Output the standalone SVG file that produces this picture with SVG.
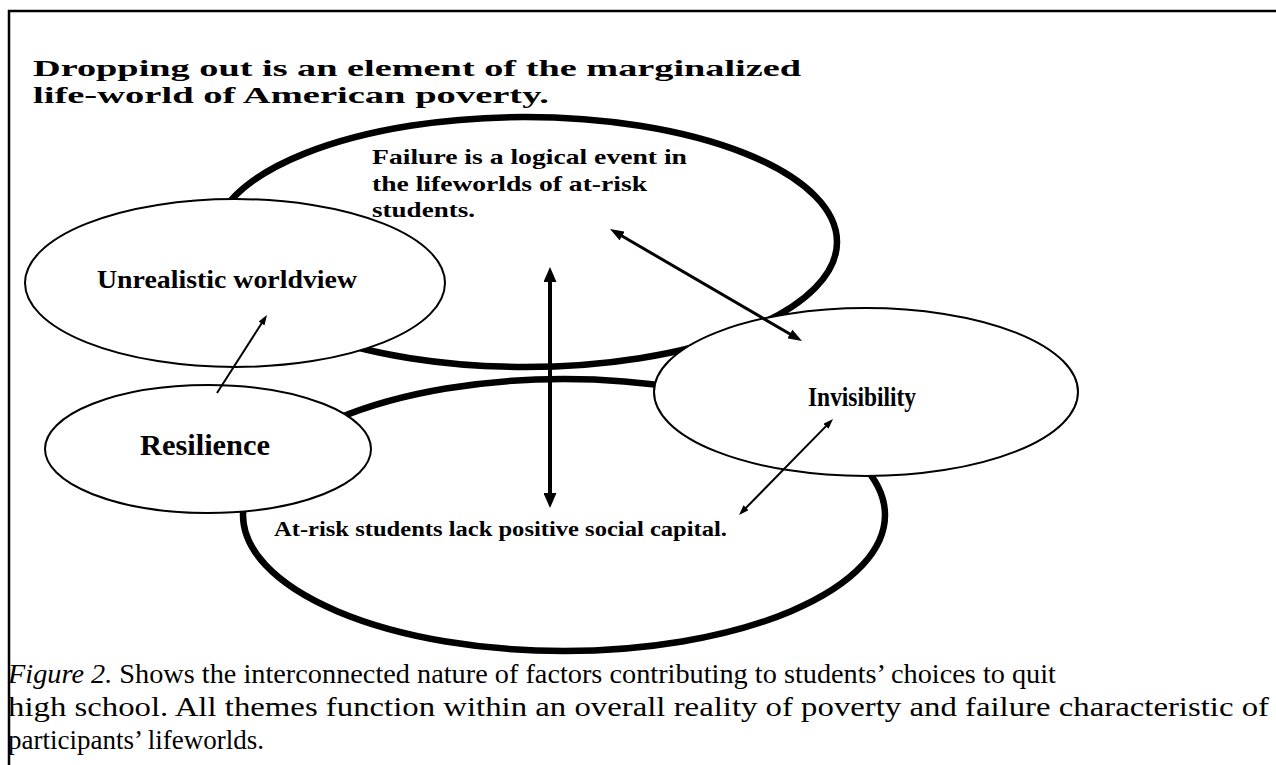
<svg xmlns="http://www.w3.org/2000/svg" width="1276" height="765" viewBox="0 0 1276 765">
<style>
.thick{fill:none;stroke:#000;stroke-width:6.5}
.thin{fill:#fff;stroke:#000;stroke-width:2}
.b{font-family:"Liberation Serif","Times New Roman",serif;font-weight:bold;fill:#000}
.cap{font-family:"Liberation Serif","Times New Roman",serif;font-size:27px;fill:#000}
.conn line{stroke:#000;fill:none}
</style>
<defs>
<marker id="hBig" markerUnits="userSpaceOnUse" markerWidth="15" markerHeight="13" refX="8" refY="6.5" orient="auto-start-reverse"><path d="M0,0 L15,6.5 L0,13 z" fill="#000"/></marker>
<marker id="hMed" markerUnits="userSpaceOnUse" markerWidth="14" markerHeight="10" refX="8" refY="5" orient="auto-start-reverse"><path d="M0,0 L14,5 L0,10 z" fill="#000"/></marker>
<marker id="hSm" markerUnits="userSpaceOnUse" markerWidth="10" markerHeight="7" refX="6" refY="3.5" orient="auto-start-reverse"><path d="M0,0 L10,3.5 L0,7 z" fill="#000"/></marker>
</defs>
<rect width="1276" height="765" fill="#fff"/>
<path d="M9,770 V11 H1280" fill="none" stroke="#000" stroke-width="2.5"/>
<g id="title">
<text class="b" x="33" y="76" font-size="23" textLength="768" lengthAdjust="spacingAndGlyphs">Dropping out is an element of the marginalized</text>
<text class="b" x="33" y="103" font-size="23" textLength="516" lengthAdjust="spacingAndGlyphs">life-world of American poverty.</text>
</g>
<g id="social-capital">
<ellipse class="thick" cx="564" cy="515" rx="321" ry="136"/>
<text class="b" x="274" y="536" font-size="20" textLength="453" lengthAdjust="spacingAndGlyphs">At-risk students lack positive social capital.</text>
</g>
<g id="failure">
<ellipse class="thick" cx="525" cy="242" rx="312" ry="125"/>
<text class="b" x="372" y="164" font-size="22" textLength="315" lengthAdjust="spacingAndGlyphs">Failure is a logical event in</text>
<text class="b" x="372" y="191" font-size="22" textLength="275" lengthAdjust="spacingAndGlyphs">the lifeworlds of at-risk</text>
<text class="b" x="372" y="217" font-size="22" textLength="103" lengthAdjust="spacingAndGlyphs">students.</text>
</g>
<g id="unrealistic">
<ellipse class="thin" cx="235" cy="283" rx="210" ry="84"/>
<text class="b" x="97" y="288" font-size="25" textLength="260" lengthAdjust="spacingAndGlyphs">Unrealistic worldview</text>
</g>
<g id="resilience">
<ellipse class="thin" cx="208" cy="449" rx="163" ry="64"/>
<text class="b" x="140" y="455" font-size="30" textLength="130" lengthAdjust="spacingAndGlyphs">Resilience</text>
</g>
<g id="invisibility">
<ellipse class="thin" cx="866" cy="392" rx="212" ry="84"/>
<text class="b" x="808" y="406" font-size="27" textLength="108" lengthAdjust="spacingAndGlyphs">Invisibility</text>
</g>
<g id="connectors" class="conn">
<line x1="550" y1="274" x2="550" y2="501" stroke-width="4" marker-start="url(#hBig)" marker-end="url(#hBig)"/>
<line x1="615.2" y1="232" x2="796.8" y2="338" stroke-width="3" marker-start="url(#hMed)" marker-end="url(#hMed)"/>
<line x1="217" y1="393" x2="264.8" y2="318.4" stroke-width="2" marker-end="url(#hSm)"/>
<line x1="830.2" y1="421.9" x2="741.8" y2="512.1" stroke-width="2" marker-start="url(#hSm)" marker-end="url(#hSm)"/>
</g>
<g id="caption">
<text class="cap" x="8" y="683" textLength="1048" lengthAdjust="spacingAndGlyphs"><tspan font-style="italic">Figure 2.</tspan> Shows the interconnected nature of factors contributing to students’ choices to quit</text>
<text class="cap" x="8" y="716" textLength="1261" lengthAdjust="spacingAndGlyphs">high school. All themes function within an overall reality of poverty and failure characteristic of</text>
<text class="cap" x="8" y="749">participants’ lifeworlds.</text>
</g>
</svg>
